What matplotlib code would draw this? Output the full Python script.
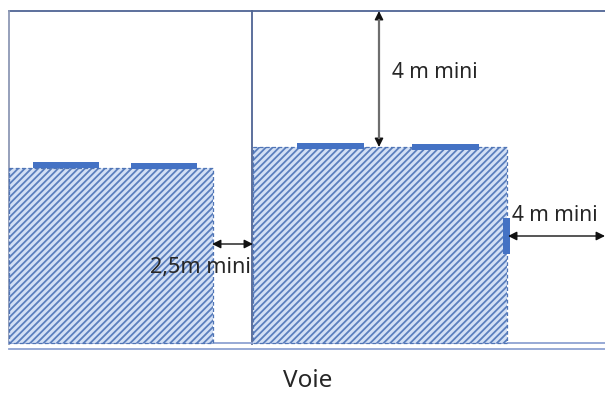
import matplotlib
matplotlib.use("Agg")
import matplotlib.pyplot as plt
from matplotlib.patches import Rectangle

plt.rcParams["font.family"] = ["Noto Sans", "DejaVu Sans"]
plt.rcParams["hatch.linewidth"] = 1.3

# everything is in image pixels, y going down
plot_lines = [(252, 252, 11, 344), (9, 605, 11, 11)]
road_lines = [(9, 605, 343), (9, 605, 349)]

# x, y, width, height
buildings = [(9, 168, 204, 175), (253, 147, 254, 196)]
windows = [(33, 162, 66, 6), (131, 163, 66, 6), (297, 143, 67, 6), (412, 144, 67, 6), (503, 218, 7, 36)]

# start, end
arrows = [((212, 244), (253, 244)), ((379, 11), (379, 147)), ((508, 236), (605, 236))]

# text, x, y, size
labels = [("2,5m mini", 200, 267, 15.5), ("4 m mini", 435, 72, 15), ("4 m mini", 555, 215, 15), ("Voie", 308, 381, 17.5)]

fig = plt.figure(figsize=(6.05, 4.12), dpi=100)
ax = fig.add_axes([0, 0, 1, 1])
ax.set_xlim(0, 605)
ax.set_ylim(412, 0)
ax.axis("off")

for x0, x1, y0, y1 in plot_lines:
    ax.plot([x0, x1], [y0, y1], color="#4f6594", lw=1.3, zorder=2)
ax.plot([9, 9], [11, 344], color="#8d99b5", lw=1.3, zorder=2)

for x0, x1, y in road_lines:
    ax.plot([x0, x1], [y, y], color="#8fa2d2", lw=1.3, zorder=2)

for x, y, w, h in buildings:
    # hatch takes the patch edge colour, so the outline width is zero here
    ax.add_patch(Rectangle((x, y), w, h, facecolor="#d3e0f5", edgecolor="#5b7fbd",
                           hatch="/////", lw=0, zorder=3))
    ax.add_patch(Rectangle((x, y), w, h, facecolor="none", edgecolor="#4f74b5",
                           lw=0.9, ls=(0, (3, 2)), zorder=3))

for x, y, w, h in windows:
    ax.add_patch(Rectangle((x, y), w, h, facecolor="#4472c4", edgecolor="none", zorder=4))

for start, end in arrows:
    ax.annotate("", xy=end, xytext=start, zorder=5,
                arrowprops=dict(arrowstyle="<|-|>", color="#111111", lw=1.0,
                                mutation_scale=13, shrinkA=0, shrinkB=0))
# the top arrow shaft is thicker and grey in the source
ax.plot([379, 379], [20, 138], color="#6e6e6e", lw=1.6, zorder=5)

for text, x, y, size in labels:
    ax.text(x, y, text, fontsize=size, color="#262626", ha="center", va="center", zorder=6)

fig.savefig("out.png", dpi=100)
